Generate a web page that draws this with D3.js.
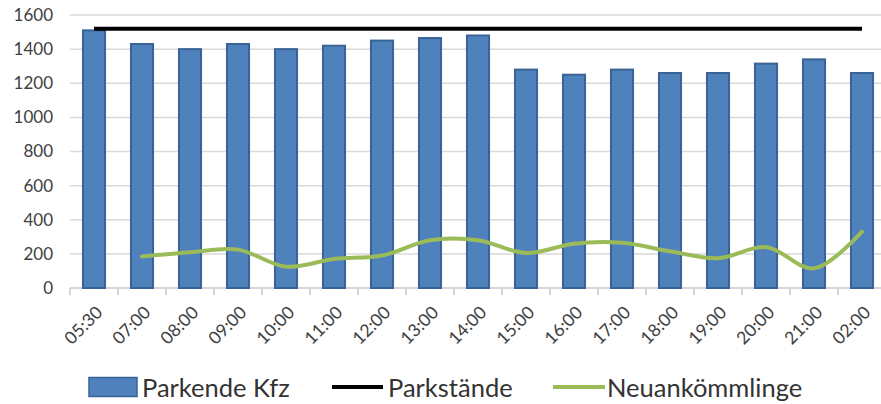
<!DOCTYPE html>
<html>
<head>
<meta charset="utf-8">
<script src="https://cdn.jsdelivr.net/npm/d3@7"></script>
<style>
  html, body { margin: 0; padding: 0; background: #fff; }
  svg { display: block; font-family: Lato, "Open Sans", sans-serif; }
</style>
</head>
<body>
<svg id="chart" width="881" height="404"></svg>
<script>
// Zeitpunkte der Zählung
const categories = ["05:30","07:00","08:00","09:00","10:00","11:00","12:00","13:00","14:00",
                    "15:00","16:00","17:00","18:00","19:00","20:00","21:00","02:00"];
// Parkende Kfz je Zeitpunkt
const parkendeKfz = [1510,1430,1400,1430,1400,1420,1450,1465,1480,1280,1250,1280,1260,1260,1315,1340,1260];
// Anzahl der Parkstände (Kapazität)
const parkstaende = [1520,1520,1520,1520,1520,1520,1520,1520,1520,1520,1520,1520,1520,1520,1520,1520,1520];
// Neuankömmlinge seit dem vorherigen Zeitpunkt (für 05:30 kein Wert)
const neuankoemmlinge = [null,185,210,225,125,170,190,280,280,205,260,265,215,175,240,115,330];
// Achsenbeschriftung
const yTicks = [0,200,400,600,800,1000,1200,1400,1600];
const legendLabels = ["Parkende Kfz","Parkstände","Neuankömmlinge"];

const colors = { bar: "#4f81bd", barStroke: "#3a6396", cap: "#000000", line: "#9bbb59" };

const svg = d3.select("#chart");
const plot = { left: 70, right: 886, top: 15, bottom: 288 };

const x = d3.scaleBand().domain(categories).range([plot.left, plot.right]).paddingInner(0.54).paddingOuter(0.27);
const xc = d => x(d) + x.bandwidth() / 2;
const y = d3.scaleLinear().domain([0, 1600]).range([plot.bottom, plot.top]);

// Gitternetzlinien
svg.append("g")
  .selectAll("line")
  .data(yTicks.filter(t => t > 0))
  .join("line")
  .attr("x1", plot.left).attr("x2", plot.right)
  .attr("y1", d => y(d)).attr("y2", d => y(d))
  .attr("stroke", "#d9d9d9").attr("stroke-width", 1.5);

// Y-Achse (nur Beschriftung)
const yAxis = d3.axisLeft(y).tickValues(yTicks).tickSize(0).tickPadding(0).tickFormat(d3.format("d"));
const gy = svg.append("g").attr("transform", `translate(${plot.left - 17},0)`).call(yAxis);
gy.select(".domain").remove();
gy.selectAll("text").attr("font-size", 17).attr("fill", "#404040").attr("font-family", "Lato, sans-serif");

// X-Achse mit Teilstrichen zwischen den Kategorien
svg.append("line")
  .attr("x1", plot.left).attr("x2", plot.right)
  .attr("y1", plot.bottom).attr("y2", plot.bottom)
  .attr("stroke", "#c8c8c8").attr("stroke-width", 1.5);
const step = x.step();
svg.append("g")
  .selectAll("line")
  .data(categories.map(c => xc(c) - step / 2))
  .join("line")
  .attr("x1", d => d).attr("x2", d => d)
  .attr("y1", plot.bottom).attr("y2", plot.bottom + 7)
  .attr("stroke", "#c8c8c8").attr("stroke-width", 1.5);

svg.append("g")
  .selectAll("text")
  .data(categories)
  .join("text")
  .attr("transform", d => `translate(${xc(d) + 5},${plot.bottom + 21}) rotate(-45)`)
  .attr("text-anchor", "end")
  .attr("dominant-baseline", "central")
  .attr("font-size", 17.5)
  .attr("fill", "#404040")
  .text(d => d);

// Balken: Parkende Kfz
svg.append("g")
  .selectAll("rect")
  .data(categories.map((c, i) => ({ c, v: parkendeKfz[i] })))
  .join("rect")
  .attr("x", d => x(d.c))
  .attr("y", d => y(d.v))
  .attr("width", x.bandwidth())
  .attr("height", d => y(0) - y(d.v))
  .attr("fill", colors.bar)
  .attr("stroke", colors.barStroke)
  .attr("stroke-width", 2);

// Linie: Parkstände
const capLine = d3.line().x((d, i) => xc(categories[i])).y(d => y(d));
svg.append("path")
  .datum(parkstaende)
  .attr("d", capLine)
  .attr("fill", "none")
  .attr("stroke", colors.cap)
  .attr("stroke-width", 4);

// Linie: Neuankömmlinge (geglättet)
const newLine = d3.line()
  .defined(d => d != null)
  .x((d, i) => xc(categories[i]))
  .y(d => y(d))
  .curve(d3.curveCatmullRom.alpha(0.5));
svg.append("path")
  .datum(neuankoemmlinge)
  .attr("d", newLine)
  .attr("fill", "none")
  .attr("stroke", colors.line)
  .attr("stroke-width", 4)
  .attr("stroke-linecap", "round");

// Legende
const legend = svg.append("g").attr("font-size", 25.5).attr("fill", "#333");
const ly = 387;
legend.append("rect").attr("x", 89).attr("y", ly - 9.5).attr("width", 48).attr("height", 19)
  .attr("fill", colors.bar).attr("stroke", colors.barStroke).attr("stroke-width", 1.5);
legend.append("text").attr("x", 142).attr("y", ly).attr("dominant-baseline", "central").text(legendLabels[0]);
legend.append("line").attr("x1", 332).attr("x2", 383).attr("y1", ly).attr("y2", ly)
  .attr("stroke", colors.cap).attr("stroke-width", 4);
legend.append("text").attr("x", 388).attr("y", ly).attr("dominant-baseline", "central").text(legendLabels[1]);
legend.append("line").attr("x1", 553).attr("x2", 605).attr("y1", ly).attr("y2", ly)
  .attr("stroke", colors.line).attr("stroke-width", 4);
legend.append("text").attr("x", 607).attr("y", ly).attr("dominant-baseline", "central").text(legendLabels[2]);
</script>
</body>
</html>
